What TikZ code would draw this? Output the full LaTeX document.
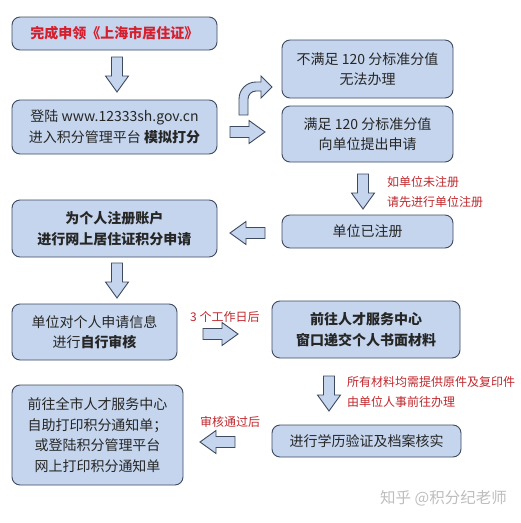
\documentclass[tikz,border=0pt]{standalone}
\usepackage{fontspec}
\setmainfont{Noto Sans CJK SC}
\definecolor{boxfill}{RGB}{197,213,237}
\definecolor{boxline}{RGB}{62,74,96}
\definecolor{labred}{RGB}{192,40,45}
\definecolor{titred}{RGB}{214,30,45}
\definecolor{wm}{RGB}{190,190,190}
\tikzset{
  box/.style={draw=boxline, fill=boxfill, line width=0.9pt, rounded corners=8pt,
    align=center, inner sep=2pt, text=black!85, font=\fontsize{14}{20.5}\selectfont},
  arrowsty/.style={draw=boxline, fill=boxfill, line width=0.9pt, line join=miter},
  lab/.style={anchor=west, text=labred, align=left, inner sep=0pt, font=\fontsize{12}{20}\selectfont},
  barr/.pic={\path[arrowsty] (0,-5.5) -- (19,-5.5) -- (19,-11.5) -- (35,0) -- (19,11.5) -- (19,5.5) -- (0,5.5) -- cycle;}
}
\begin{document}
\begin{tikzpicture}[x=1pt,y=-1pt]
\useasboundingbox[fill=white] (0,0) rectangle (521,523);
% boxes
\node[box, minimum width=205pt, minimum height=33pt, text=titred, font=\fontsize{14}{20}\selectfont\bfseries] (b1) at (114.5,33.5) {完成申领《上海市居住证》};
\node[box, minimum width=205pt, minimum height=54pt] (b2) at (114.5,127) {登陆 www.12333sh.gov.cn\\进入积分管理平台 \textbf{模拟打分}};
\node[box, minimum width=171pt, minimum height=58pt] (b3) at (367.5,69) {不满足 120 分标准分值\\无法办理};
\node[box, minimum width=171pt, minimum height=56pt] (b4) at (367.5,134) {满足 120 分标准分值\\向单位提出申请};
\node[box, minimum width=171pt, minimum height=33pt] (b5) at (367.5,231.5) {单位已注册};
\node[box, minimum width=205pt, minimum height=57pt, font=\fontsize{14}{20.5}\selectfont\bfseries] (b6) at (114.5,228.5) {为个人注册账户\\进行网上居住证积分申请};
\node[box, minimum width=165pt, minimum height=56pt] (b7) at (94.5,332) {单位对个人申请信息\\进行\textbf{自行审核}};
\node[box, minimum width=188pt, minimum height=57pt, font=\fontsize{14}{20.5}\selectfont\bfseries] (b8) at (366,329.5) {前往人才服务中心\\窗口递交个人书面材料};
\node[box, minimum width=189pt, minimum height=32pt] (b9) at (366.5,441) {进行学历验证及档案核实};
\node[box, minimum width=171pt, minimum height=100pt] (b10) at (97.5,435) {前往全市人才服务中心\\自助打印积分通知单；\\或登陆积分管理平台\\网上打印积分通知单};
% block arrows
\pic[rotate=-90] at (117,57) {barr};
\pic at (230,132) {barr};
\pic[rotate=-90] at (363,174) {barr};
\pic[rotate=180] at (265,233) {barr};
\pic[rotate=-90] at (117,263) {barr};
\pic at (203,334) {barr};
\pic[rotate=-90] at (329,376) {barr};
\pic[rotate=180] at (235,442) {barr};
% curved arrow
\path[arrowsty] (239,115) -- (239,99) .. controls (239,89.6) and (246.6,82) .. (256,82)
  -- (261,82) -- (261,76) -- (272,87) -- (261,98) -- (261,91) -- (256,91)
  .. controls (251.6,91) and (248,94.6) .. (248,99) -- (248,115) -- cycle;
% labels
\node[lab] (l1) at (387,192) {如单位未注册\\请先进行单位注册};
\node[lab] (l2) at (190,317) {3 个工作日后};
\node[lab] (l3) at (347,391.5) {所有材料均需提供原件及复印件\\由单位人事前往办理};
\node[lab] (l4) at (200,422) {审核通过后};
\node[anchor=west, text=wm, inner sep=0pt, font=\fontsize{15.5}{17}\selectfont] (wmk) at (380,498) {知乎 @积分纪老师};
\end{tikzpicture}
\end{document}
